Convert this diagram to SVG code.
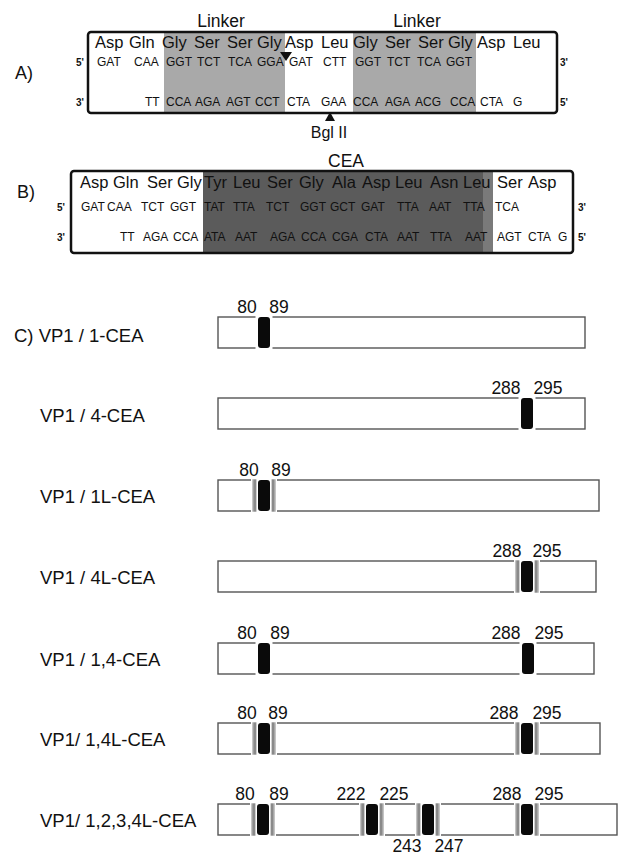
<svg xmlns="http://www.w3.org/2000/svg" xmlns:xlink="http://www.w3.org/1999/xlink" width="619" height="855" viewBox="0 0 619 855">
<style>
text{font-family:"Liberation Sans",Arial,sans-serif;fill:#111}
.aa{font-size:16.5px}
.ttl{font-size:17.5px}
.dna{font-size:12px}
.end{font-size:10px;font-weight:bold}
.pl{font-size:18px}
.lbl{font-size:18.5px}
.num{font-size:17.5px;text-anchor:middle}
.box{fill:none;stroke:#111;stroke-width:2.5}
.bar{fill:#fff;stroke:#555;stroke-width:1.4}
.blk{fill:#0a0a0a}
.gry{fill:#8a8a8a}
.lgt{fill:#c4c4c4}
.gap{fill:#fff}
</style>
<defs>
<g id="siteP">
<rect class="gap" x="-8.5" y="-1.5" width="17" height="34"/>
<rect class="blk" x="-6" y="0" width="12" height="31" rx="3"/>
</g>
<g id="siteL">
<rect class="gap" x="-13" y="-1.5" width="26" height="34"/>
<rect class="lgt" x="-12" y="-0.7" width="1.2" height="32.4"/>
<rect class="gry" x="-10.8" y="-0.7" width="3.2" height="32.4"/>
<rect class="blk" x="-6" y="0" width="12" height="31" rx="3"/>
<rect class="gry" x="7.6" y="-0.7" width="3.2" height="32.4"/>
<rect class="lgt" x="10.8" y="-0.7" width="1.2" height="32.4"/>
</g>
</defs>

<g id="panelA">
<text class="pl" x="15" y="79">A)</text>
<rect x="164" y="32" width="121" height="81" fill="#a9a9a9"/>
<rect x="353" y="32" width="123" height="81" fill="#a9a9a9"/>
<rect class="box" x="88" y="32" width="469" height="81" rx="3"/>
<text class="ttl" x="221" y="27" text-anchor="middle">Linker</text>
<text class="ttl" x="417" y="27" text-anchor="middle">Linker</text>
<text class="aa" y="48"><tspan x="95">Asp</tspan><tspan x="129">Gln</tspan><tspan x="162">Gly</tspan><tspan x="194">Ser</tspan><tspan x="227">Ser</tspan><tspan x="257">Gly</tspan><tspan x="285">Asp</tspan><tspan x="321">Leu</tspan><tspan x="353">Gly</tspan><tspan x="385">Ser</tspan><tspan x="418">Ser</tspan><tspan x="448">Gly</tspan><tspan x="477">Asp</tspan><tspan x="513">Leu</tspan></text>
<text class="end" x="76" y="66">5'</text>
<text class="dna" y="66"><tspan x="97">GAT</tspan><tspan x="134">CAA</tspan><tspan x="166">GGT</tspan><tspan x="197">TCT</tspan><tspan x="228">TCA</tspan><tspan x="257">GGA</tspan><tspan x="289">GAT</tspan><tspan x="323">CTT</tspan><tspan x="355">GGT</tspan><tspan x="387">TCT</tspan><tspan x="417">TCA</tspan><tspan x="446">GGT</tspan></text>
<text class="end" x="560" y="66">3'</text>
<text class="end" x="76" y="106">3'</text>
<text class="dna" y="106"><tspan x="145">TT</tspan><tspan x="166">CCA</tspan><tspan x="195">AGA</tspan><tspan x="226">AGT</tspan><tspan x="255">CCT</tspan><tspan x="287">CTA</tspan><tspan x="321">GAA</tspan><tspan x="353">CCA</tspan><tspan x="385">AGA</tspan><tspan x="415">ACG</tspan><tspan x="450">CCA</tspan><tspan x="480">CTA</tspan><tspan x="513">G</tspan></text>
<text class="end" x="560" y="106">5'</text>
<polygon points="280,52 292,52 286,61" fill="#111"/>
<polygon points="325,121 335,121 330,112" fill="#111"/>
<text class="ttl" x="329" y="138" text-anchor="middle" style="font-size:16px">Bgl II</text>
</g>

<g id="panelB">
<text class="pl" x="17" y="198">B)</text>
<rect x="203" y="171" width="280" height="82" fill="#5b5b5b"/>
<rect x="483" y="171" width="10" height="82" fill="#7a7a7a"/>
<rect class="box" x="71" y="171" width="502" height="82" rx="3"/>
<text class="ttl" x="346" y="167" text-anchor="middle">CEA</text>
<text class="aa" y="188"><tspan x="80">Asp</tspan><tspan x="113">Gln</tspan><tspan x="147">Ser</tspan><tspan x="177">Gly</tspan><tspan x="204">Tyr</tspan><tspan x="233">Leu</tspan><tspan x="267">Ser</tspan><tspan x="299">Gly</tspan><tspan x="332">Ala</tspan><tspan x="362">Asp</tspan><tspan x="395">Leu</tspan><tspan x="430">Asn</tspan><tspan x="463">Leu</tspan><tspan x="497">Ser</tspan><tspan x="528">Asp</tspan></text>
<text class="end" x="57" y="211">5'</text>
<text class="dna" y="211"><tspan x="81">GAT</tspan><tspan x="107">CAA</tspan><tspan x="141">TCT</tspan><tspan x="170">GGT</tspan><tspan x="204">TAT</tspan><tspan x="233">TTA</tspan><tspan x="266">TCT</tspan><tspan x="300">GGT</tspan><tspan x="330">GCT</tspan><tspan x="361">GAT</tspan><tspan x="397">TTA</tspan><tspan x="429">AAT</tspan><tspan x="463">TTA</tspan><tspan x="495">TCA</tspan></text>
<text class="end" x="578" y="211">3'</text>
<text class="end" x="57" y="241">3'</text>
<text class="dna" y="241"><tspan x="120">TT</tspan><tspan x="143">AGA</tspan><tspan x="173">CCA</tspan><tspan x="204">ATA</tspan><tspan x="235">AAT</tspan><tspan x="270">AGA</tspan><tspan x="301">CCA</tspan><tspan x="332">CGA</tspan><tspan x="365">CTA</tspan><tspan x="397">AAT</tspan><tspan x="430">TTA</tspan><tspan x="465">AAT</tspan><tspan x="497">AGT</tspan><tspan x="528">CTA</tspan><tspan x="558">G</tspan></text>
<text class="end" x="578" y="241">5'</text>
</g>

<g id="row1">
<text class="lbl" x="14" y="342">C) VP1 / 1-CEA</text>
<rect class="bar" x="218" y="317" width="367" height="31"/>
<use xlink:href="#siteP" x="264" y="317"/>
<text class="num" x="247" y="313">80</text><text class="num" x="279" y="313">89</text>
</g>
<g id="row2">
<text class="lbl" x="40" y="422">VP1 / 4-CEA</text>
<rect class="bar" x="218" y="398" width="367" height="31"/>
<use xlink:href="#siteP" x="527" y="398"/>
<text class="num" x="506" y="394">288</text><text class="num" x="548" y="394">295</text>
</g>
<g id="row3">
<text class="lbl" x="40" y="503">VP1 / 1L-CEA</text>
<rect class="bar" x="218" y="480" width="381" height="31"/>
<use xlink:href="#siteL" x="264" y="480"/>
<text class="num" x="249" y="476">80</text><text class="num" x="281" y="476">89</text>
</g>
<g id="row4">
<text class="lbl" x="40" y="584">VP1 / 4L-CEA</text>
<rect class="bar" x="218" y="561" width="378" height="31"/>
<use xlink:href="#siteL" x="527" y="561"/>
<text class="num" x="507" y="557">288</text><text class="num" x="547" y="557">295</text>
</g>
<g id="row5">
<text class="lbl" x="40" y="666">VP1 / 1,4-CEA</text>
<rect class="bar" x="218" y="643" width="376" height="31"/>
<use xlink:href="#siteP" x="264" y="643"/>
<use xlink:href="#siteP" x="528" y="643"/>
<text class="num" x="247" y="639">80</text><text class="num" x="280" y="639">89</text>
<text class="num" x="506" y="639">288</text><text class="num" x="549" y="639">295</text>
</g>
<g id="row6">
<text class="lbl" x="40" y="746">VP1/ 1,4L-CEA</text>
<rect class="bar" x="218" y="723" width="382" height="31"/>
<use xlink:href="#siteL" x="264" y="723"/>
<use xlink:href="#siteL" x="527" y="723"/>
<text class="num" x="247" y="719">80</text><text class="num" x="278" y="719">89</text>
<text class="num" x="504" y="719">288</text><text class="num" x="547" y="719">295</text>
</g>
<g id="row7">
<text class="lbl" x="40" y="827">VP1/ 1,2,3,4L-CEA</text>
<rect class="bar" x="218" y="804" width="399" height="31"/>
<use xlink:href="#siteL" x="263" y="804"/>
<use xlink:href="#siteL" x="372" y="804"/>
<use xlink:href="#siteL" x="428" y="804"/>
<use xlink:href="#siteL" x="527" y="804"/>
<text class="num" x="245" y="800">80</text><text class="num" x="279" y="800">89</text>
<text class="num" x="351" y="800">222</text><text class="num" x="394" y="800">225</text>
<text class="num" x="507" y="800">288</text><text class="num" x="549" y="800">295</text>
<text class="num" x="407" y="852">243</text><text class="num" x="449" y="852">247</text>
</g>
<g id="connectors"/>
</svg>
